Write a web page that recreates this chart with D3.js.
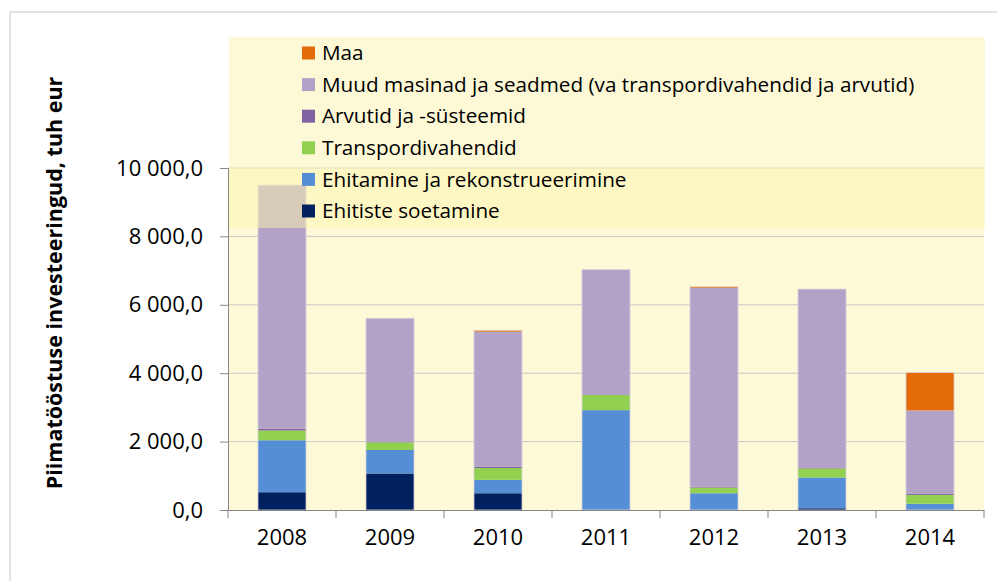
<!DOCTYPE html>
<html>
<head>
<meta charset="utf-8">
<script src="https://cdn.jsdelivr.net/npm/d3@7"></script>
<style>
  body { margin: 0; background: #fff; }
  svg { display: block; font-family: "Open Sans", sans-serif; }
</style>
</head>
<body>
<div id="chart"></div>
<script>
const years = ["2008", "2009", "2010", "2011", "2012", "2013", "2014"];
const seriesNames = [
  "Ehitiste soetamine",
  "Ehitamine ja rekonstrueerimine",
  "Transpordivahendid",
  "Arvutid ja -süsteemid",
  "Muud masinad ja seadmed (va transpordivahendid ja arvutid)",
  "Maa"
];
const ehitiste = [520, 1068, 490, 0, 0, 50, 0];
const ehitamine = [1520, 687, 392, 2920, 490, 900, 185];
const transport = [284, 225, 344, 442, 166, 265, 256];
const arvutid = [58, 20, 39, 0, 20, 15, 29];
const muud = [7118, 3608, 3950, 3668, 5824, 5230, 2442];
const maa = [0, 0, 40, 0, 30, 0, 1108];
const colors = ["#002060", "#558ed5", "#92d050", "#8064a2", "#b3a2c7", "#e36c09"];
const yTicks = [0, 2000, 4000, 6000, 8000, 10000];

const width = 997, height = 581;
const plot = { left: 228, right: 984, top: 168, bottom: 510 };

const svg = d3.select("#chart").append("svg")
  .attr("width", width)
  .attr("height", height);

// outer chart border
svg.append("rect")
  .attr("x", 10).attr("y", 12)
  .attr("width", 1100).attr("height", 700)
  .attr("fill", "#fff")
  .attr("stroke", "#d9d9d9")
  .attr("stroke-width", 1.5);

const x = d3.scaleBand()
  .domain(years)
  .range([plot.left, plot.right])
  .paddingInner(0.555)
  .paddingOuter(0.2775);

const y = d3.scaleLinear()
  .domain([0, 10000])
  .range([plot.bottom, plot.top]);

const table = years.map((yr, i) => {
  const row = { year: yr };
  [ehitiste, ehitamine, transport, arvutid, muud, maa].forEach((s, k) => row[seriesNames[k]] = s[i]);
  return row;
});
const stacked = d3.stack().keys(seriesNames)(table);
const tops = stacked[stacked.length - 1];

// plot background
svg.append("rect")
  .attr("x", plot.left).attr("y", plot.top)
  .attr("width", plot.right - plot.left)
  .attr("height", plot.bottom - plot.top)
  .attr("fill", "#fefad8");

// gridlines
svg.append("g")
  .selectAll("line")
  .data(yTicks.slice(1))
  .join("line")
  .attr("x1", plot.left).attr("x2", plot.right)
  .attr("y1", d => y(d)).attr("y2", d => y(d))
  .attr("stroke", "#c8c8c8")
  .attr("stroke-width", 1);

// bars
svg.append("g")
  .selectAll("g")
  .data(stacked)
  .join("g")
  .attr("fill", (d, i) => colors[i])
  .selectAll("rect")
  .data(d => d)
  .join("rect")
  .attr("x", d => x(d.data.year))
  .attr("width", x.bandwidth())
  .attr("y", d => y(d[1]))
  .attr("height", d => y(d[0]) - y(d[1]));

// light bar outlines
svg.append("g")
  .selectAll("rect")
  .data(table)
  .join("rect")
  .attr("x", d => x(d.year))
  .attr("width", x.bandwidth())
  .attr("y", (d, i) => y(tops[i][1]))
  .attr("height", (d, i) => y(0) - y(tops[i][1]))
  .attr("fill", "none")
  .attr("stroke", "#dcd6dc")
  .attr("stroke-width", 0.8);

// legend (semi-transparent box over the plot)
const legend = svg.append("g");
legend.append("rect")
  .attr("x", plot.left + 1).attr("y", 37)
  .attr("width", plot.right - plot.left)
  .attr("height", 191)
  .attr("fill", "#fbf3ad")
  .attr("fill-opacity", 0.5);

const legendItems = seriesNames.map((n, i) => ({ name: n, color: colors[i] })).reverse();
const li = legend.selectAll("g.item")
  .data(legendItems)
  .join("g")
  .attr("class", "item")
  .attr("transform", (d, i) => `translate(302,${53 + i * 31.6})`);
li.append("rect")
  .attr("x", 0).attr("y", -6.5)
  .attr("width", 13).attr("height", 13)
  .attr("fill", d => d.color);
li.append("text")
  .attr("x", 20)
  .attr("dy", "0.35em")
  .attr("font-size", 20.7)
  .attr("fill", "#000")
  .text(d => d.name);

// y axis
const fmt = v => d3.format(",.1f")(v).replace(/,/g, " ").replace(".", ",");
const yAxis = svg.append("g")
  .attr("transform", `translate(${plot.left},0)`)
  .call(d3.axisLeft(y).tickValues(yTicks).tickSize(8).tickPadding(17).tickFormat(fmt));
yAxis.select(".domain").attr("stroke", "#868686");
yAxis.selectAll(".tick line").attr("stroke", "#868686");
yAxis.selectAll("text").attr("font-size", 22).attr("fill", "#000").attr("font-family", "'Open Sans', sans-serif");

// x axis
const xAxis = svg.append("g")
  .attr("transform", `translate(0,${plot.bottom})`)
  .call(d3.axisBottom(x).tickSize(0).tickPadding(19));
xAxis.select(".domain").attr("stroke", "#868686");
xAxis.selectAll("text").attr("font-size", 22).attr("fill", "#000").attr("font-family", "'Open Sans', sans-serif");
xAxis.append("g")
  .selectAll("line")
  .data(d3.range(years.length + 1))
  .join("line")
  .attr("x1", i => plot.left + i * x.step())
  .attr("x2", i => plot.left + i * x.step())
  .attr("y1", 0).attr("y2", 8)
  .attr("stroke", "#868686");

// y title
svg.append("text")
  .attr("transform", `translate(62,283) rotate(-90)`)
  .attr("text-anchor", "middle")
  .attr("font-size", 21.5)
  .attr("font-weight", "bold")
  .attr("fill", "#000")
  .text("Piimatööstuse investeeringud, tuh eur");
</script>
</body>
</html>
